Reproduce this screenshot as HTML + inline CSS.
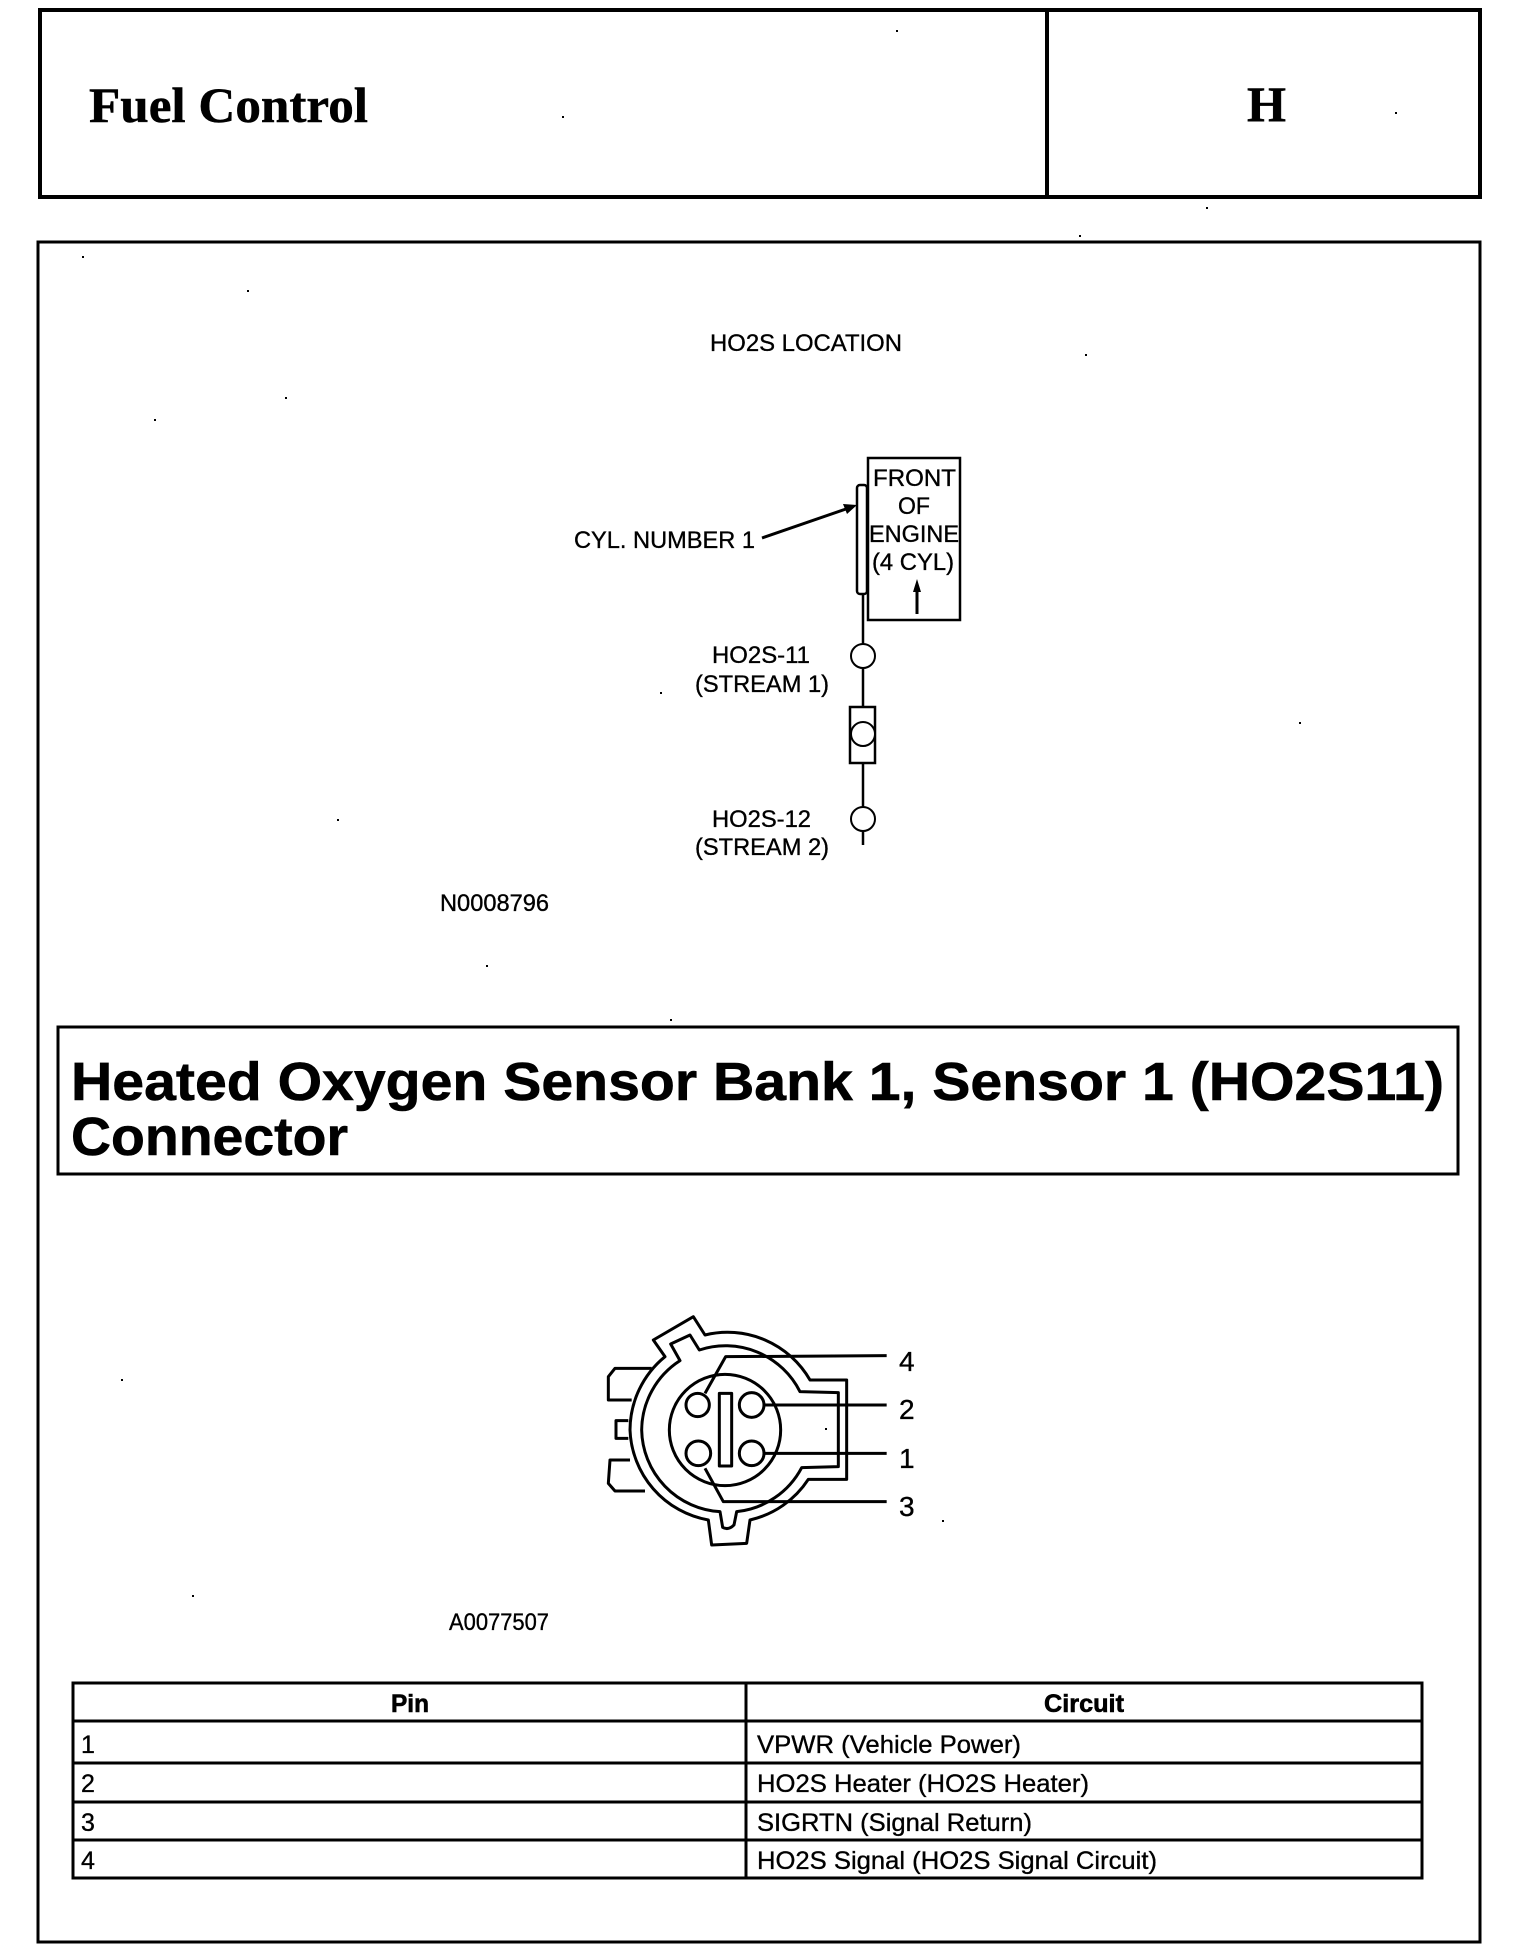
<!DOCTYPE html>
<html><head><meta charset="utf-8"><style>html,body{margin:0;padding:0;background:#fff}svg{display:block}text{font-family:"Liberation Sans",sans-serif;fill:#000;stroke:#000;stroke-width:.35}.s{font-family:"Liberation Serif",serif;font-weight:bold;stroke-width:.5}.b{font-weight:bold;stroke-width:.6}</style></head><body>
<svg width="1520" height="1958" viewBox="0 0 1520 1958" xmlns="http://www.w3.org/2000/svg">
<rect width="1520" height="1958" fill="#fff"/>
<g fill="none" stroke="#000">
<rect x="40" y="10" width="1440" height="187" stroke-width="4"/>
<line x1="1047" y1="10" x2="1047" y2="197" stroke-width="4"/>
<rect x="38" y="242" width="1442" height="1700" stroke-width="3"/>
<rect x="58" y="1027" width="1400" height="147" stroke-width="3"/>
</g>
<text class="s" x="89" y="122" font-size="50" textLength="279" lengthAdjust="spacingAndGlyphs">Fuel Control</text>
<text class="s" x="1247" y="121" font-size="50" textLength="39" lengthAdjust="spacingAndGlyphs">H</text>
<g font-size="24">
<text x="710" y="351" textLength="192" lengthAdjust="spacingAndGlyphs">HO2S LOCATION</text>
<text x="574" y="548" textLength="181" lengthAdjust="spacingAndGlyphs">CYL. NUMBER 1</text>
<text x="873" y="486" textLength="83" lengthAdjust="spacingAndGlyphs">FRONT</text>
<text x="898" y="514" textLength="32" lengthAdjust="spacingAndGlyphs">OF</text>
<text x="869" y="542" textLength="90" lengthAdjust="spacingAndGlyphs">ENGINE</text>
<text x="872" y="570" textLength="82" lengthAdjust="spacingAndGlyphs">(4 CYL)</text>
<text x="712" y="663" textLength="98" lengthAdjust="spacingAndGlyphs">HO2S-11</text>
<text x="695" y="692" textLength="134" lengthAdjust="spacingAndGlyphs">(STREAM 1)</text>
<text x="712" y="827" textLength="99" lengthAdjust="spacingAndGlyphs">HO2S-12</text>
<text x="695" y="855" textLength="134" lengthAdjust="spacingAndGlyphs">(STREAM 2)</text>
<text x="440" y="911" textLength="109" lengthAdjust="spacingAndGlyphs">N0008796</text>
<text x="449" y="1630" textLength="100" lengthAdjust="spacingAndGlyphs">A0077507</text>
</g>
<g fill="none" stroke="#000" stroke-width="2.5">
<rect x="868" y="458" width="92" height="162"/>
<rect x="857" y="485" width="10" height="109" rx="3" fill="#fff"/>
<line x1="863" y1="594" x2="863" y2="644"/>
<circle cx="863" cy="656" r="12" stroke-width="2"/>
<line x1="863" y1="668" x2="863" y2="707"/>
<rect x="850" y="707" width="25" height="56"/>
<circle cx="863" cy="734" r="12" fill="#fff" stroke-width="2"/>
<line x1="863" y1="763" x2="863" y2="807"/>
<circle cx="863" cy="819" r="12" stroke-width="2"/>
<line x1="863" y1="831" x2="863" y2="845"/>
<line x1="762" y1="538" x2="846" y2="509" stroke-width="3"/>
<line x1="917" y1="590" x2="917" y2="614" stroke-width="3"/>
</g>
<polygon points="857,505 843,504 847,514" fill="#000"/>
<polygon points="917,579 913,592 921,592" fill="#000"/>
<text class="b" x="71" y="1100" font-size="54" textLength="1373" lengthAdjust="spacingAndGlyphs">Heated Oxygen Sensor Bank 1, Sensor 1 (HO2S11)</text>
<text class="b" x="71" y="1155" font-size="54" textLength="277" lengthAdjust="spacingAndGlyphs">Connector</text>
<g transform="translate(580 1290) scale(0.33333)" fill="none" stroke="#000" stroke-width="9" stroke-linejoin="round">
<path d="M340 80 L375 135 A285 285 0 0 1 690 270 L800 270 L800 568 L685 568 A285 285 0 0 1 510 690 L500 760 L395 765 L385 690 A285 285 0 0 1 150 420 A285 285 0 0 1 255 200 L220 150 Z"/>
<path d="M330 135 L358 180 A250 250 0 0 1 660 305 L775 308 L775 530 L665 533 A250 250 0 0 1 470 665 L462 705 Q445 722 428 712 L420 665 A250 250 0 0 1 185 420 A250 250 0 0 1 300 212 L272 162 Z"/>
<path d="M215 235 L105 235 L85 260 L85 330 L155 330"/>
<path d="M145 392 L108 392 L108 445 L145 445"/>
<path d="M150 510 L90 510 L85 580 L105 603 L195 603"/>
<circle cx="435" cy="420" r="167"/>
<circle cx="353" cy="345" r="35"/>
<circle cx="515" cy="345" r="37"/>
<circle cx="355" cy="490" r="37"/>
<circle cx="515" cy="490" r="37"/>
<rect x="418" y="310" width="37" height="218"/>
<path d="M375 310 L437 200 L920 197"/>
<path d="M552 345 L920 345"/>
<path d="M552 490 L920 490"/>
<path d="M375 535 L430 635 L920 635"/>
</g>
<g font-size="28">
<text x="899" y="1371">4</text>
<text x="899" y="1419">2</text>
<text x="899" y="1468">1</text>
<text x="899" y="1516">3</text>
</g>
<g fill="none" stroke="#000" stroke-width="3">
<rect x="73" y="1683" width="1349" height="195"/>
<line x1="746" y1="1683" x2="746" y2="1878"/>
<line x1="73" y1="1721" x2="1422" y2="1721"/>
<line x1="73" y1="1763" x2="1422" y2="1763"/>
<line x1="73" y1="1802" x2="1422" y2="1802"/>
<line x1="73" y1="1840" x2="1422" y2="1840"/>
</g>
<g font-size="25">
<text class="b" x="391" y="1712" textLength="38" lengthAdjust="spacingAndGlyphs">Pin</text>
<text class="b" x="1044" y="1712" textLength="80" lengthAdjust="spacingAndGlyphs">Circuit</text>
<text x="81" y="1753">1</text>
<text x="81" y="1792">2</text>
<text x="81" y="1831">3</text>
<text x="81" y="1869">4</text>
<text x="757" y="1753" textLength="264" lengthAdjust="spacingAndGlyphs">VPWR (Vehicle Power)</text>
<text x="757" y="1792" textLength="332" lengthAdjust="spacingAndGlyphs">HO2S Heater (HO2S Heater)</text>
<text x="757" y="1831" textLength="275" lengthAdjust="spacingAndGlyphs">SIGRTN (Signal Return)</text>
<text x="757" y="1869" textLength="400" lengthAdjust="spacingAndGlyphs">HO2S Signal (HO2S Signal Circuit)</text>
</g>
<g fill="#000">
<rect x="896" y="30" width="2" height="2"/><rect x="562" y="116" width="2" height="2"/><rect x="1395" y="112" width="2" height="2"/><rect x="1206" y="207" width="2" height="2"/><rect x="1079" y="235" width="2" height="2"/><rect x="82" y="256" width="2" height="2"/><rect x="247" y="290" width="2" height="2"/><rect x="1085" y="354" width="2" height="2"/><rect x="154" y="419" width="2" height="2"/><rect x="285" y="397" width="2" height="2"/><rect x="659" y="1958" width="0" height="0"/><rect x="660" y="692" width="2" height="2"/><rect x="1299" y="722" width="2" height="2"/><rect x="337" y="819" width="2" height="2"/><rect x="486" y="965" width="2" height="2"/><rect x="670" y="1019" width="2" height="2"/><rect x="121" y="1379" width="2" height="2"/><rect x="942" y="1520" width="2" height="2"/><rect x="825" y="1428" width="2" height="2"/><rect x="192" y="1595" width="2" height="2"/>
</g>
</svg>
</body></html>
